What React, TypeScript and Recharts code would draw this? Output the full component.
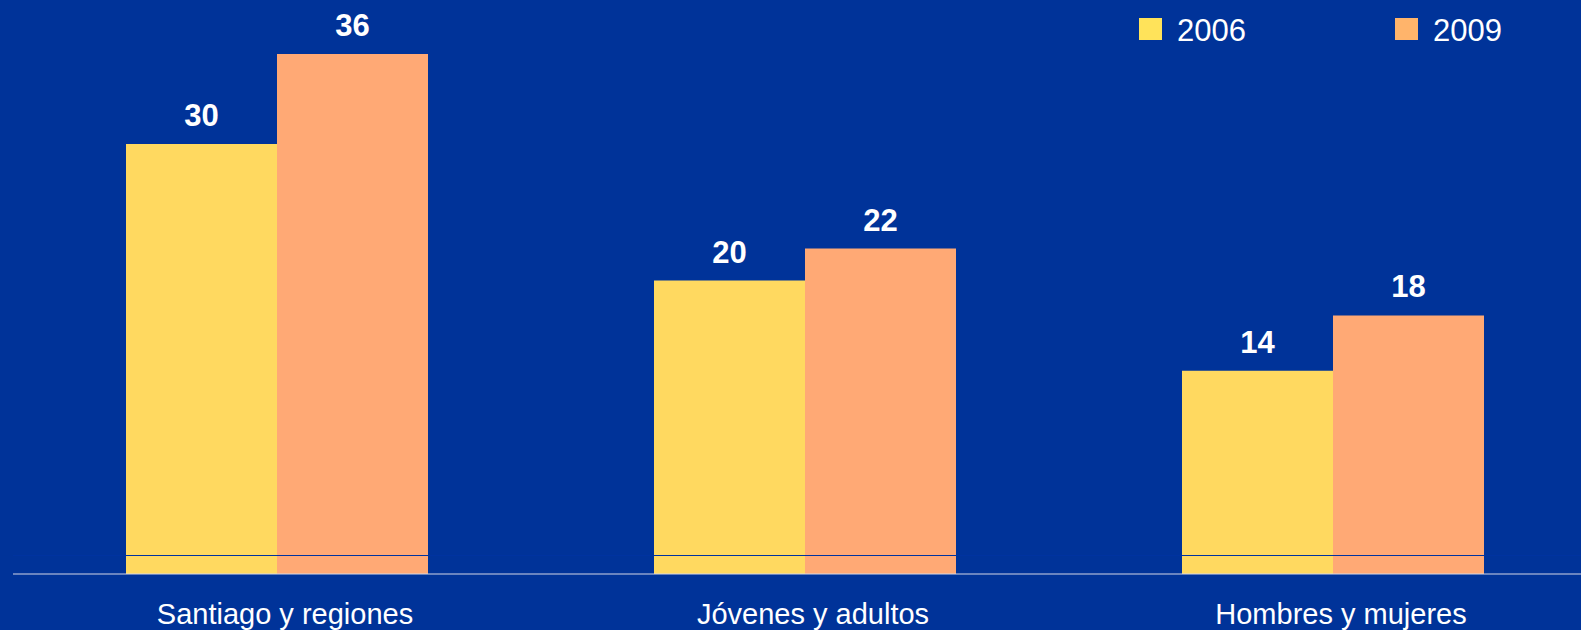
import React from 'react';
import { BarChart, Bar, XAxis, YAxis, LabelList, ReferenceLine } from 'recharts';

const categories = ['Santiago y regiones', 'Jóvenes y adultos', 'Hombres y mujeres'];
const values2006 = [29.6, 20.2, 14.0];
const values2009 = [35.8, 22.4, 17.8];
const seriesNames = ['2006', '2009'];
const dividerValue = 1.24;

const BG = '#003399';
const FONT = '"Liberation Sans", Arial, sans-serif';
const barColors = ['#FFD960', '#FFA975'];
const legendColors = ['#FFE35A', '#FFB46B'];

const data = categories.map((name, i) => ({
  name,
  y2006: values2006[i],
  y2009: values2009[i],
}));

const CategoryTick = (props: any) => {
  const { x, y, payload } = props;
  return (
    <text x={x + 8} y={y + 50} textAnchor="middle" fill="#ffffff" fontSize={29} fontFamily={FONT}>
      {payload.value}
    </text>
  );
};

// legend drawn as plain html so it does not shrink the plot area
const LegendBox = () => (
  <div style={{ position: 'absolute', top: 12, left: 1139, display: 'flex', fontFamily: FONT }}>
    {seriesNames.map((s, i) => (
      <div key={s} style={{ display: 'flex', alignItems: 'center', width: 256 }}>
        <div style={{ width: 23, height: 22, background: legendColors[i], marginRight: 15 }} />
        <span style={{ color: '#fff', fontSize: 31, lineHeight: '31px', marginTop: 3 }}>{s}</span>
      </div>
    ))}
  </div>
);

const App: React.FC = () => {
  return (
    <div
      style={{
        position: 'absolute',
        left: 0,
        top: 0,
        width: 1581,
        height: 630,
        overflow: 'hidden',
        background: BG,
        fontFamily: FONT,
      }}
    >
      <BarChart
        width={1600}
        height={630}
        data={data}
        margin={{ top: 22, right: 3, left: 13, bottom: 0 }}
        barCategoryGap={113}
        barGap={0}
      >
        <XAxis
          dataKey="name"
          height={56}
          axisLine={{ stroke: '#d4d7e6', strokeWidth: 1 }}
          tickLine={false}
          tickSize={0}
          tickMargin={0}
          tick={<CategoryTick />}
          interval={0}
        />
        <YAxis hide domain={[0, 38]} />
        <Bar dataKey="y2006" name="2006" fill={barColors[0]} isAnimationActive={false}>
          <LabelList
            dataKey="y2006"
            position="top"
            offset={18}
            formatter={(v: any) => Math.round(Number(v))}
            fill="#ffffff"
            fontSize={31}
            fontWeight="bold"
            fontFamily={FONT}
          />
        </Bar>
        <Bar dataKey="y2009" name="2009" fill={barColors[1]} isAnimationActive={false}>
          <LabelList
            dataKey="y2009"
            position="top"
            offset={18}
            formatter={(v: any) => Math.round(Number(v))}
            fill="#ffffff"
            fontSize={31}
            fontWeight="bold"
            fontFamily={FONT}
          />
        </Bar>
        <ReferenceLine y={dividerValue} stroke="#0033a0" strokeWidth={1} shapeRendering="crispEdges" />
      </BarChart>
      <LegendBox />
    </div>
  );
};

export default App;
